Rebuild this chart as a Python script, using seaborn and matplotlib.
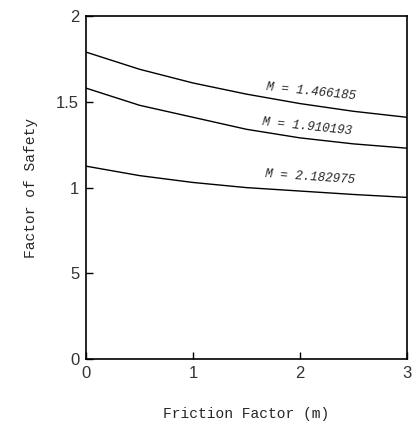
"""
    factor of safety vs friction factor for three M values
"""
import matplotlib
matplotlib.use('Agg')
import matplotlib.pyplot as plt
import numpy as np
import pandas as pd
import seaborn as sns

friction = [0.0, 0.5, 1.0, 1.5, 2.0, 2.5, 3.0]
fs_m1 = [1.79, 1.69, 1.61, 1.545, 1.49, 1.445, 1.41]   # M = 1.466185
fs_m2 = [1.58, 1.48, 1.41, 1.34, 1.29, 1.255, 1.23]    # M = 1.910193
fs_m3 = [1.125, 1.07, 1.03, 1.00, 0.98, 0.96, 0.943]   # M = 2.182975
m_labels = ['M = 1.466185', 'M = 1.910193', 'M = 2.182975']
y_ticks = [0, 0.5, 1, 1.5, 2]
y_ticklabels = ['0', '5', '1', '1.5', '2']
x_ticks = [0, 1, 2, 3]

df = pd.DataFrame({
    'm': friction * 3,
    'fs': fs_m1 + fs_m2 + fs_m3,
    'curve': [m_labels[0]] * 7 + [m_labels[1]] * 7 + [m_labels[2]] * 7,
})

sns.set_style('ticks')
fig = plt.figure(figsize=(4.2, 4.24), dpi=100)
ax = fig.add_axes([0.205, 0.153, 0.764, 0.809])

sns.lineplot(data=df, x='m', y='fs', hue='curve', palette=['black'] * 3,
             linewidth=1.0, legend=False, ax=ax)

ax.set_xlim(0, 3)
ax.set_ylim(0, 2)
ax.set_xticks(x_ticks)
ax.set_xticklabels([str(t) for t in x_ticks])
ax.set_yticks(y_ticks)
ax.set_yticklabels(y_ticklabels)
ax.tick_params(direction='in', length=5, width=1, colors='black', labelsize=12)
ax.tick_params(axis='x', pad=5)
ax.tick_params(axis='y', pad=5)
for lab in ax.get_xticklabels() + ax.get_yticklabels():
    lab.set_family('Liberation Sans')
    lab.set_color('#333333')
for s in ax.spines.values():
    s.set_color('black')
    s.set_linewidth(1.2)

ax.set_xlabel('Friction Factor (m)', family='Liberation Mono', fontsize=10.5, labelpad=19)
ax.set_ylabel('Factor of Safety', family='Liberation Mono', fontsize=10.5, labelpad=13)

# curve annotations
ann_pos = [(2.10, 1.557), (2.07, 1.353), (2.09, 1.061)]
ann_rot = [-6, -6, -4]
for (xx, yy), rot, lab in zip(ann_pos, ann_rot, m_labels):
    ax.text(xx, yy, lab, fontsize=9, family='Liberation Mono', style='italic',
            rotation=rot, ha='center', va='center')

plt.savefig('out.png', dpi=100)
